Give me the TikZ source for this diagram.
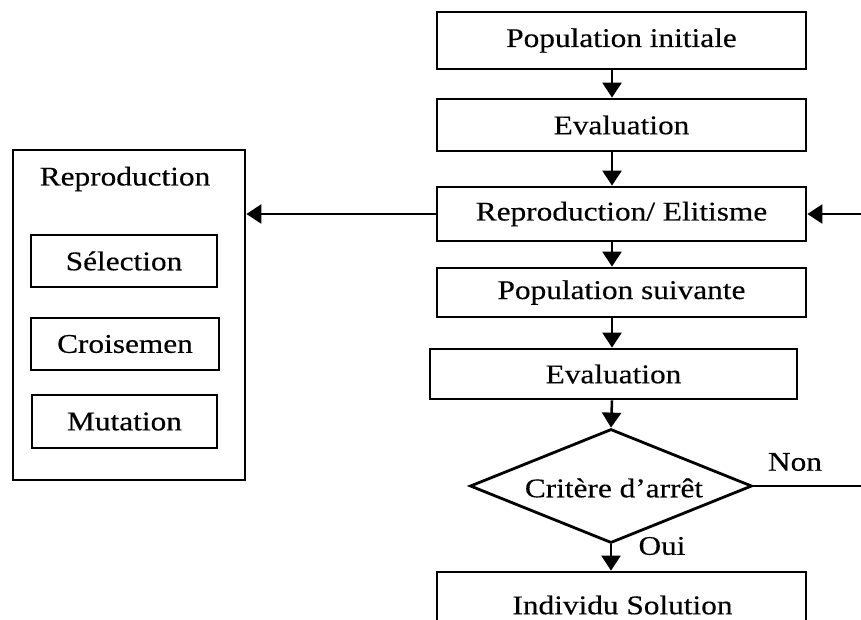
\documentclass[tikz,border=0pt]{standalone}
\usepackage{fontspec}
\setmainfont{Liberation Serif}[FakeStretch=1.16,FakeBold=0.35]
\usetikzlibrary{arrows.meta,shapes.geometric}
\begin{document}
\begin{tikzpicture}[x=1pt,y=-1pt,
  txt/.style={font=\fontsize{27}{30}\selectfont},
  box/.style={draw,line width=2.8pt,inner sep=0pt,txt},
  flow/.style={line width=2.5pt,-{Triangle[width=19pt,length=15pt]}},
  plain/.style={line width=2.5pt}]
\useasboundingbox (0,0) rectangle (861,619);
\clip (0,0) rectangle (861,619);
\fill[white] (0,0) rectangle (861,619);

% main column
\node[box,minimum width=369pt,minimum height=57pt] (pi)  at (621.5,40.5) {Population initiale};
\node[box,minimum width=369pt,minimum height=52pt] (ev1) at (621.5,125)  {Evaluation};
\node[box,minimum width=369pt,minimum height=54pt] (re)  at (621.5,214)  {Reproduction/ Elitisme};
\node[box,minimum width=369pt,minimum height=49pt] (ps)  at (621.5,292.5){Population suivante};
\node[box,minimum width=367pt,minimum height=50pt] (ev2) at (613.5,374)  {Evaluation};
\node[draw,diamond,aspect=2.47,line width=2.8pt,inner sep=0pt,txt,
      minimum width=282pt,minimum height=114pt] (crit) at (611,486) {};
\node[txt] (crittxt) at (614,488) {Critère d’arrêt};
\node[box,minimum width=369pt,minimum height=54pt] (sol) at (621.5,599) {};
\node[txt] (soltxt) at (622.5,605) {Individu Solution};

% reproduction operators
\node[box,minimum width=232pt,minimum height=330pt] (rep) at (129,315) {};
\node[txt] (reptitle) at (125,179) {Reproduction};
\node[box,minimum width=186pt,minimum height=52pt] (sel) at (124,261)   {Sélection};
\node[box,minimum width=188pt,minimum height=52pt] (cro) at (125,344)   {Croisemen};
\node[box,minimum width=185pt,minimum height=53pt] (mut) at (124.5,421.5){Mutation};

% connectors
\coordinate (ax) at (612,0);
\coordinate (rc) at (862,0);
\draw[flow] (pi.south -| ax)  -- (ev1.north -| ax);
\draw[flow] (ev1.south -| ax) -- (re.north -| ax);
\draw[flow] (re.south -| ax)  -- (ps.north -| ax);
\draw[flow] (ps.south -| ax)  -- (ev2.north -| ax);
\draw[flow] (ev2.south -| ax) -- (crit.north);
\draw[flow] (crit.south) -- (sol.north -| crit.south);
\draw[flow] (re.west) -- (rep.east |- re.west);
\draw[plain] (crit.east) -| (rc |- re.east);
\draw[flow] (rc |- re.east) -- (re.east);

\node[txt] (non) at (795,462) {Non};
\node[txt] (oui) at (662,546) {Oui};
\end{tikzpicture}
\end{document}
